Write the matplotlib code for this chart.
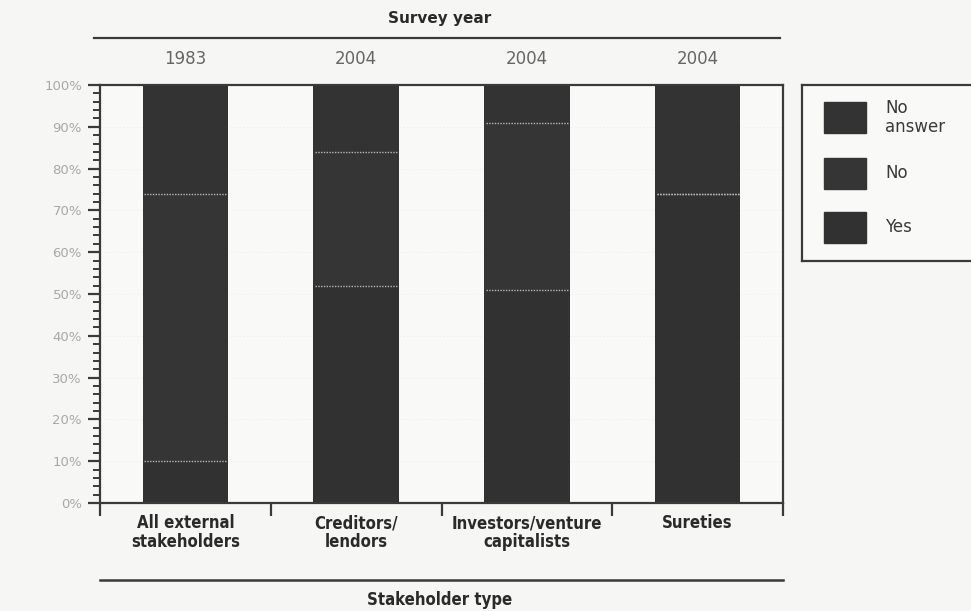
import numpy as np
import matplotlib
matplotlib.use("Agg")
import matplotlib.pyplot as plt
from matplotlib.patches import Rectangle
from matplotlib.lines import Line2D

categories = ["All external\nstakeholders", "Creditors/\nlendors",
              "Investors/venture\ncapitalists", "Sureties"]
years = ["1983", "2004", "2004", "2004"]
yes = [10, 52, 51, 74]
no = [64, 32, 40, 0]
no_answer = [26, 16, 9, 26]

series = [("Yes", yes, "#313131"), ("No", no, "#353535"),
          ("No\nanswer", no_answer, "#333333")]

W, H = 971, 611
fig = plt.figure(figsize=(W / 100, H / 100), dpi=100, facecolor="#f6f6f4")
ax = fig.add_axes([100 / W, 1 - 503 / H, 683 / W, 418 / H])
ax.set_facecolor("#f9f9f8")

narrow = ["DejaVu Sans"]
ink = "#3a3a3a"

x = np.arange(len(categories)) + 0.5
width = 0.5
bottom = np.zeros(len(categories))
for name, vals, col in series:
    vals = np.array(vals, dtype=float)
    ax.bar(x, vals, width, bottom=bottom, color=col, label=name, zorder=2)
    bottom = bottom + vals
    # faint dotted seam at the top of each segment (below 100%)
    mask = bottom < 100
    ax.hlines(bottom[mask], x[mask] - width / 2 + 0.01, x[mask] + width / 2 - 0.01,
              colors="#b8b8b8", linestyles=(0, (1, 1)), lw=1.0, zorder=3)

ax.set_xlim(0, len(categories))
ax.set_ylim(0, 100)
ax.yaxis.grid(True, color="#e6e6e6", lw=0.6, ls=(0, (1, 3)), zorder=0)

ax.set_yticks(np.arange(0, 101, 10))
ax.set_yticks(np.arange(0, 101, 2), minor=True)
ax.set_yticklabels([f"{v}%" for v in range(0, 101, 10)], color="#a8a8a8",
                   fontsize=9.5)
ax.tick_params(axis="y", which="major", length=9, width=1.6, color=ink, pad=4)
ax.tick_params(axis="y", which="minor", length=5, width=1.4, color=ink)

ax.set_xticks(np.arange(0, len(categories) + 1))
ax.set_xticklabels([])
ax.set_xticks(x, minor=True)
ax.set_xticklabels(categories, minor=True, fontsize=12, fontweight="bold",
                   family=narrow, fontstretch="condensed", color="#2a2a2a",
                   linespacing=1.05)
ax.tick_params(axis="x", which="major", length=9, width=1.6, color=ink)
ax.tick_params(axis="x", which="minor", length=0, pad=8)

for s in ax.spines.values():
    s.set_color(ink)
    s.set_linewidth(1.6)

# survey year row above the plot
for xi, yr in zip(x, years):
    ax.annotate(yr, (xi, 1.0), xycoords=("data", "axes fraction"),
                xytext=(0, 12), textcoords="offset points", ha="center",
                va="bottom", fontsize=12, color="#666666")
fig.add_artist(Line2D([94 / W, 780 / W], [1 - 38 / H] * 2, color=ink, lw=1.6))
fig.text(440 / W, 1 - 18 / H, "Survey year", ha="center", va="center",
         fontsize=11, fontweight="bold", color="#2a2a2a")

# axis title below the category labels
fig.add_artist(Line2D([100 / W, 783 / W], [1 - 580 / H] * 2, color=ink, lw=1.8))
fig.text(440 / W, 1 - 600 / H, "Stakeholder type", ha="center", va="center",
         fontsize=12, fontweight="bold", family=narrow, fontstretch="condensed",
         color="#2a2a2a")

# legend box, top entry first
lax = fig.add_axes([802 / W, 1 - 261 / H, 190 / W, 176 / H])
lax.set_xlim(0, 190)
lax.set_ylim(176, 0)
lax.set_xticks([])
lax.set_yticks([])
lax.set_facecolor("#f9f9f8")
for s in lax.spines.values():
    s.set_color(ink)
    s.set_linewidth(1.6)
rows = [17, 73, 127]
for (name, vals, col), ry in zip(series[::-1], rows):
    lax.add_patch(Rectangle((22, ry), 42, 31, color=col))
    lax.text(83, ry + 15.5, name, va="center", ha="left", fontsize=12,
             color="#3a3a3a", linespacing=1.1)

fig.savefig("out.png", dpi=100, facecolor=fig.get_facecolor())
